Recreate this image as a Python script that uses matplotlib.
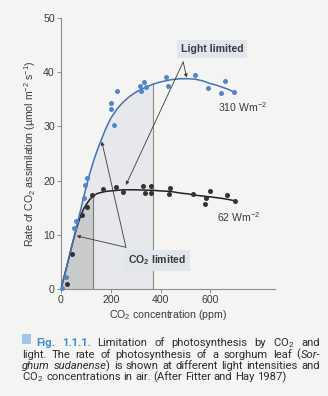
import matplotlib
matplotlib.use("Agg")
import matplotlib.pyplot as plt
from matplotlib.transforms import IdentityTransform
import numpy as np

# ---------------- data ----------------
co2_high = [3, 19, 52, 59, 94, 97, 106, 202, 202, 214, 227, 316, 320, 332, 341,
            423, 430, 537, 591, 641, 658, 695]
rate_high = [0.1, 2.2, 11.3, 12.5, 16.7, 19.2, 20.5, 34.4, 33.2, 30.3, 36.5, 37.5,
             36.6, 38.1, 37.3, 39.2, 37.5, 39.5, 37.0, 36.1, 38.3, 36.3]

co2_low = [23, 43, 86, 106, 124, 167, 222, 251, 328, 339, 362, 362, 435, 440,
           529, 579, 583, 597, 668, 699]
rate_low = [1.0, 6.5, 13.7, 15.1, 17.3, 18.4, 18.9, 17.95, 19.0, 17.8, 19.0, 17.7,
            17.5, 18.6, 17.5, 15.7, 16.7, 18.0, 17.3, 16.3]

curve_x = [0, 10, 20, 30, 40, 50, 60, 70, 80, 90, 100, 115, 130, 145, 160, 180,
           200, 225, 250, 275, 300, 335, 370, 400, 440, 480, 510, 540, 570, 600,
           625, 650, 675, 695]
curve_high = [0, 1.8, 3.6, 5.4, 7.3, 9.1, 11.0, 12.9, 14.8, 16.7, 18.6, 21.2, 23.5,
              25.5, 27.3, 29.6, 31.5, 33.2, 34.5, 35.5, 36.3, 37.1, 37.8, 38.2,
              38.6, 38.8, 38.8, 38.7, 38.4, 37.9, 37.6, 37.2, 36.8, 36.3]
curve_low = [0, 1.8, 3.6, 5.4, 7.3, 9.1, 10.8, 12.3, 13.6, 14.7, 15.5, 16.5, 17.2,
             17.6, 17.8, 18.0, 18.1, 18.2, 18.3, 18.3, 18.3, 18.25, 18.2, 18.1,
             18.0, 17.7, 17.55, 17.3, 17.15, 17.0, 16.85, 16.7, 16.5, 16.3]

x_ticks = [0, 200, 400, 600]
y_ticks = [0, 10, 20, 30, 40, 50]
co2_limit_edge = 130
light_limit_edge = 370

# ---------------- style ----------------
W, H = 328, 396
bg = "#f4f4f2"
plt.rcParams['font.family'] = ['Liberation Sans', 'DejaVu Sans']
text_col = "#3a3a3a"

fig = plt.figure(figsize=(W / 100, H / 100), dpi=100, facecolor=bg)

x0, x1 = 61, 275
ytop, ybot = 18, 289
ax = fig.add_axes([x0 / W, 1 - ybot / H, (x1 - x0) / W, (ybot - ytop) / H])
ax.set_facecolor(bg)
ax.set_xlim(0, 860)
ax.set_ylim(0, 50)

cx = np.array(curve_x)
ch = np.array(curve_high)
cl = np.array(curve_low)

# shaded regions
m_light = cx <= light_limit_edge
ax.fill_between(cx[m_light], 0, ch[m_light], color="#e6e8eb", lw=0, zorder=1)
m_co2 = cx <= co2_limit_edge
ax.fill_between(cx[m_co2], 0, cl[m_co2], color="#cacbcd", lw=0, zorder=1.1)
ax.plot([light_limit_edge, light_limit_edge], [0, ch[cx == light_limit_edge][0]],
        color="#8a8a8a", lw=0.8, zorder=1.2)
ax.plot([co2_limit_edge, co2_limit_edge], [0, cl[cx == co2_limit_edge][0]],
        color="#7a7a7a", lw=0.8, zorder=1.2)

# curves
ax.plot(cx, cl, color="#222222", lw=1.1, zorder=3)
ax.plot(cx, ch, color="#4272b4", lw=1.1, zorder=3.5)

# points
ax.scatter(co2_low, rate_low, s=13, color="#333333", lw=0, zorder=4, clip_on=False)
ax.scatter(co2_high, rate_high, s=13, color="#5585c6", lw=0, zorder=4.5, clip_on=False)

# axes styling
for s in ['top', 'right']:
    ax.spines[s].set_visible(False)
for s in ['left', 'bottom']:
    ax.spines[s].set_color("#8c8c8c")
    ax.spines[s].set_linewidth(0.8)
ax.spines['left'].set_bounds(0, 50)
ax.set_xticks(x_ticks)
ax.set_yticks(y_ticks)
ax.tick_params(axis='both', direction='out', length=3, width=0.7, color="#8c8c8c",
               labelsize=7.6, labelcolor=text_col, pad=1.5)
ax.set_xlabel("CO$_\\mathregular{2}$ concentration (ppm)", fontsize=7.6,
              color=text_col, labelpad=2)
ax.set_ylabel("Rate of CO$_\\mathregular{2}$ assimilation (\u00b5mol m$^\\mathregular{-2}$ s$^\\mathregular{-1}$)",
              fontsize=7.6, color=text_col, labelpad=4)

# labels on curves
ax.text(631, 33.6, "310 Wm$^\\mathregular{-2}$", fontsize=7.6, color=text_col,
        ha='left', va='center', zorder=6)
ax.text(627, 13.3, "62 Wm$^\\mathregular{-2}$", fontsize=7.6, color=text_col,
        ha='left', va='center', zorder=6)

# annotation boxes
box = dict(boxstyle='square,pad=0.35', fc="#e1e6ed", ec='none')
ax.text(607, 44.3, "Light limited", fontsize=7.6, fontweight='bold', color=text_col,
        ha='center', va='center', bbox=box, zorder=6)
ax.text(388, 5.3, "CO$_\\mathregular{2}$ limited", fontsize=7.6, fontweight='bold',
        color=text_col, ha='center', va='center', bbox=box, zorder=6)

arrow = dict(arrowstyle='-|>', lw=0.6, color="#3a3a3a", mutation_scale=5,
             shrinkA=0, shrinkB=0)
ax.annotate('', xy=(505, 39.0), xytext=(491, 41.9), arrowprops=arrow, zorder=5)
ax.annotate('', xy=(261, 19.2), xytext=(491, 41.9), arrowprops=arrow, zorder=5)
ax.annotate('', xy=(164, 27.2), xytext=(261, 7.7), arrowprops=arrow, zorder=5)
ax.annotate('', xy=(63, 9.8), xytext=(261, 7.7), arrowprops=arrow, zorder=5)

# ---------------- caption (justified) ----------------
cap_font = ['Roboto', 'DejaVu Sans']
cap_size = 8.1
cap_col = "#2c2c2c"
renderer = fig.canvas.get_renderer()
ident = IdentityTransform()

N = {}
I = {'style': 'italic'}
B = {'weight': 'bold', 'color': '#3f8ed3'}

lines = [
    (36, True, [[("Fig.", B)], [("1.1.1.", B)], [("Limitation", N)], [("of", N)],
                [("photosynthesis", N)], [("by", N)], [("CO$_\\mathregular{2}$", N)],
                [("and", N)]]),
    (22, True, [[("light.", N)], [("The", N)], [("rate", N)], [("of", N)],
                [("photosynthesis", N)], [("of", N)], [("a", N)], [("sorghum", N)],
                [("leaf", N)], [("(", N), ("Sor-", I)]]),
    (22, True, [[("ghum", I)], [("sudanense", I), (")", N)], [("is", N)], [("shown", N)],
                [("at", N)], [("different", N)], [("light", N)], [("intensities", N)],
                [("and", N)]]),
    (22, False, [[("CO$_\\mathregular{2}$", N)], [("concentrations", N)], [("in", N)],
                 [("air.", N)], [("(After", N)], [("Fitter", N)], [("and", N)],
                 [("Hay", N)], [("1987)", N)]]),
]
baselines = [346, 357.5, 369, 380.5]
right_edge = 320


def mk(x, y, s, kw):
    props = dict(fontsize=cap_size, family=cap_font, color=cap_col)
    props.update(kw)
    return fig.text(x, y, s, transform=ident, ha='left', va='baseline', **props)


tmp1 = mk(0, 0, "a a", N)
tmp2 = mk(0, 0, "aa", N)
space_w = tmp1.get_window_extent(renderer).width - tmp2.get_window_extent(renderer).width
tmp1.remove()
tmp2.remove()

for (xs, just, words), yb in zip(lines, baselines):
    y = H - yb
    objs = []
    widths = []
    for word in words:
        wobjs = []
        ww = 0
        for s, kw in word:
            t = mk(0, y, s, kw)
            w = t.get_window_extent(renderer).width
            wobjs.append((t, w))
            ww += w
        objs.append(wobjs)
        widths.append(ww)
    total = sum(widths)
    gap = space_w
    if just and len(words) > 1:
        gap = max((right_edge - xs - total) / (len(words) - 1), 1.5)
    x = xs
    for wobjs, ww in zip(objs, widths):
        xx = x
        for t, w in wobjs:
            t.set_x(xx)
            xx += w
        x += ww + gap

# blue square marker
fig.patches.append(plt.Rectangle((22, H - 344), 9, 10, transform=ident,
                                 facecolor="#a3c6e8", edgecolor='none'))

fig.savefig("out.png", dpi=100, facecolor=bg)
